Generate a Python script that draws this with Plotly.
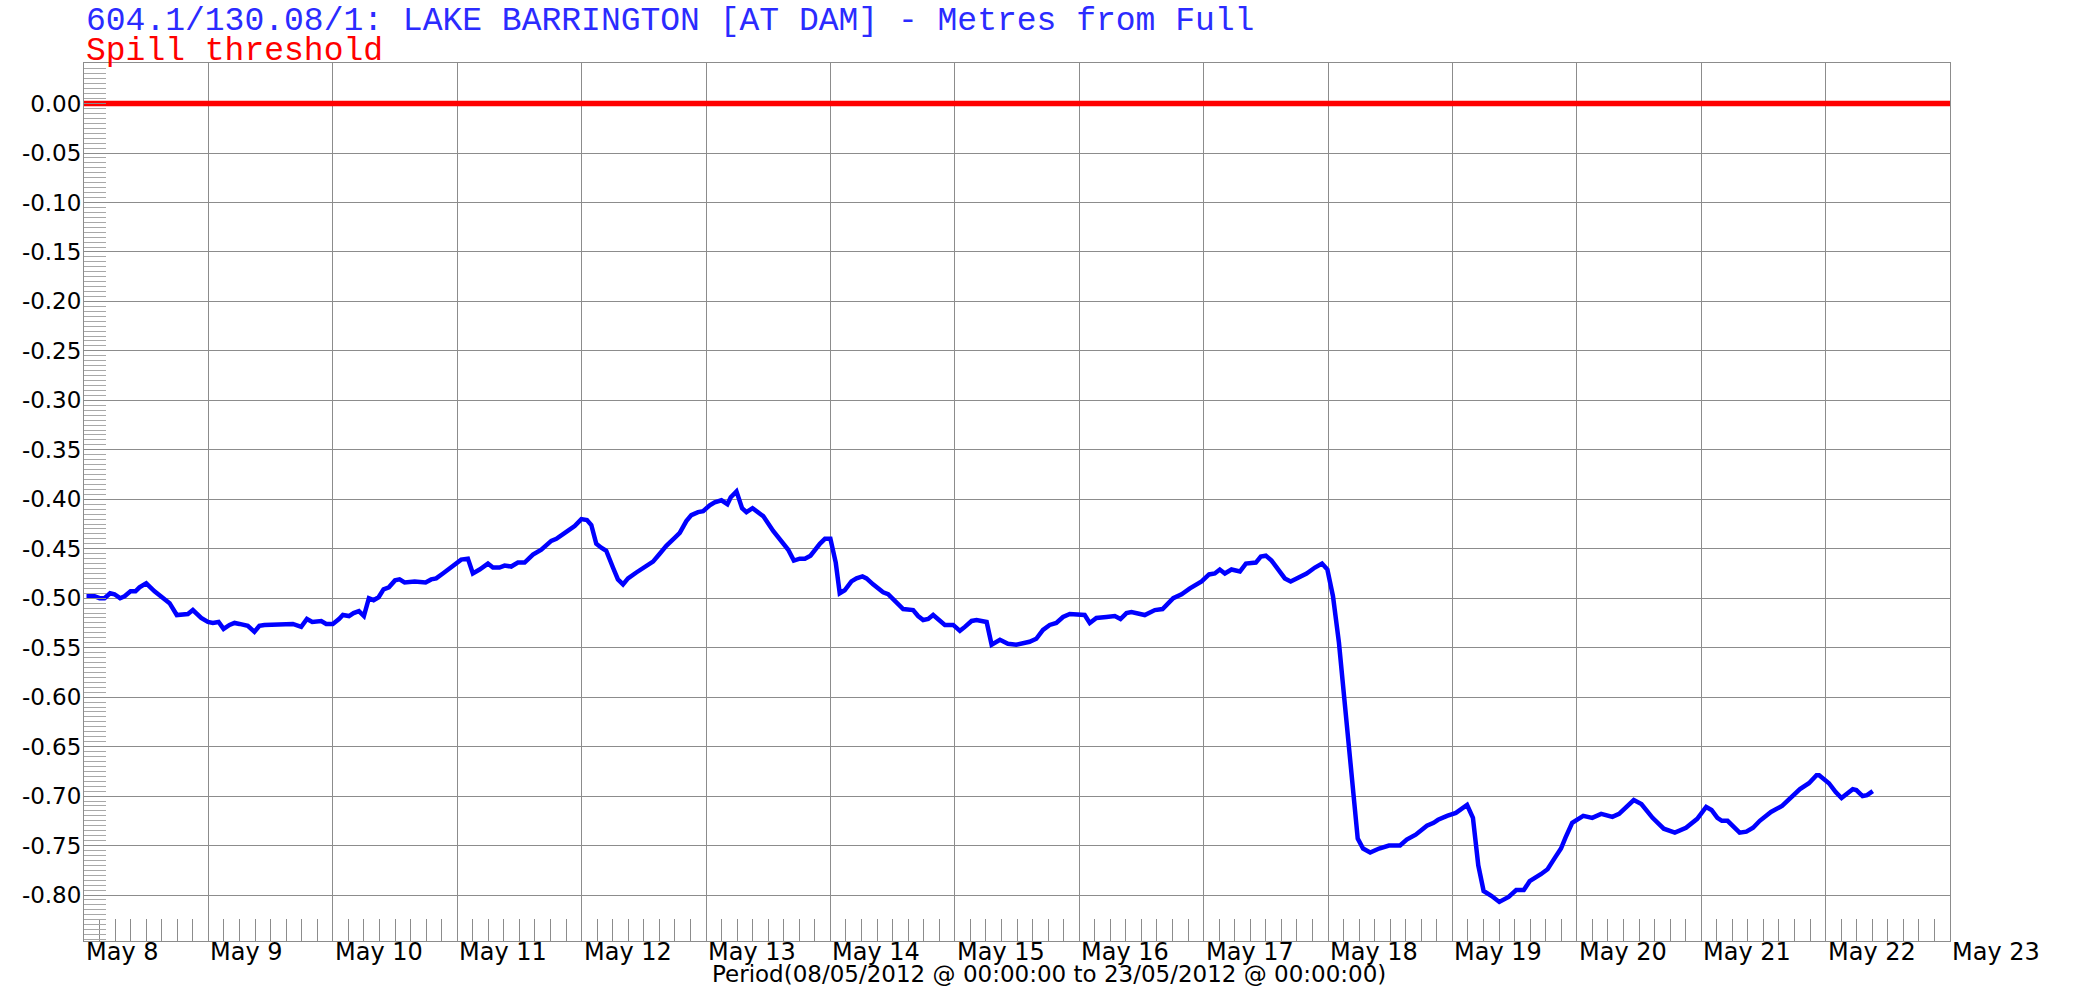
import pandas as pd
import plotly.graph_objects as go

# ---------------- data ----------------
start_date = "2012-05-08"
end_date = "2012-05-23"

# time since 08/05/2012 00:00, in days
day_offsets = [
    0.02, 0.085, 0.125, 0.165, 0.21, 0.245, 0.29, 0.326, 0.374, 0.414, 0.446, 0.50,
    0.567, 0.634, 0.688, 0.746, 0.789, 0.835, 0.875, 0.942, 0.996, 1.036, 1.082, 1.122,
    1.17, 1.21, 1.25, 1.317, 1.37, 1.41, 1.45, 1.49, 1.598, 1.679, 1.746, 1.792, 1.835,
    1.907, 1.947, 2.0, 2.05, 2.081, 2.13, 2.167, 2.21, 2.25, 2.29, 2.328, 2.368, 2.408,
    2.451, 2.5, 2.537, 2.577, 2.658, 2.746, 2.791, 2.831, 2.885, 2.966, 3.032, 3.086,
    3.126, 3.18, 3.247, 3.287, 3.34,
    3.381, 3.434, 3.488, 3.542, 3.609, 3.676, 3.756, 3.797, 3.877, 3.944, 3.998, 4.043,
    4.078, 4.118, 4.158, 4.198, 4.252, 4.292, 4.333, 4.373, 4.44, 4.52, 4.574, 4.628,
    4.681, 4.748, 4.789, 4.842, 4.882, 4.936, 4.977, 5.03, 5.07, 5.124, 5.172, 5.199,
    5.245, 5.29, 5.325, 5.374, 5.419, 5.46, 5.54, 5.607, 5.661, 5.706, 5.754, 5.795,
    5.84, 5.915, 5.956, 6.0, 6.043, 6.075, 6.115, 6.169, 6.21, 6.258, 6.29, 6.343,
    6.424, 6.464, 6.544, 6.585, 6.665, 6.705, 6.746, 6.786, 6.826, 6.88, 6.92, 6.987,
    7.041, 7.081, 7.135, 7.175, 7.256, 7.296, 7.363,
    7.427, 7.494, 7.601, 7.655, 7.709, 7.763, 7.816, 7.87, 7.924, 7.977, 8.044, 8.085,
    8.138, 8.219, 8.286, 8.332, 8.38, 8.42, 8.527, 8.608, 8.67, 8.756, 8.823, 8.89,
    8.984, 9.044, 9.09, 9.13, 9.171, 9.224, 9.292, 9.34, 9.42, 9.46, 9.5, 9.546, 9.653,
    9.7, 9.767, 9.828, 9.895, 9.952, 9.995,
    10.04, 10.088, 10.131, 10.167, 10.203, 10.239, 10.282, 10.339, 10.411, 10.49, 10.579,
    10.633, 10.705, 10.795, 10.849, 10.885, 10.957, 11.028, 11.118, 11.165, 11.208,
    11.251, 11.316, 11.377, 11.452, 11.513, 11.574, 11.621, 11.711, 11.765, 11.826,
    11.873, 11.909, 11.963, 12.052, 12.124, 12.196, 12.286, 12.34, 12.458, 12.519,
    12.609, 12.699, 12.788, 12.878, 12.968, 13.04, 13.083, 13.13, 13.166, 13.212, 13.262,
    13.309, 13.363, 13.417, 13.471, 13.561, 13.65, 13.722, 13.794, 13.866, 13.927,
    13.948, 14.027, 14.081, 14.128, 14.218, 14.247, 14.297, 14.333, 14.379,
]

# lake level, metres from full
level_m = [
    -0.498, -0.498, -0.500, -0.500, -0.495, -0.496, -0.500, -0.498, -0.493, -0.493, -0.489, -0.485,
    -0.493, -0.500, -0.505, -0.517, -0.516, -0.516, -0.512, -0.520, -0.524, -0.525, -0.524, -0.531,
    -0.527, -0.525, -0.526, -0.528, -0.534, -0.528, -0.527, -0.527, -0.527, -0.526, -0.529, -0.521, -0.524,
    -0.523, -0.526, -0.526, -0.521, -0.517, -0.518, -0.515, -0.513, -0.518, -0.500, -0.502, -0.499, -0.491,
    -0.489, -0.482, -0.481, -0.484, -0.483, -0.484, -0.481, -0.480, -0.475, -0.467, -0.461, -0.460,
    -0.475, -0.471, -0.465, -0.469, -0.469,
    -0.467, -0.468, -0.464, -0.464, -0.456, -0.451, -0.442, -0.440, -0.433, -0.427, -0.420, -0.421,
    -0.426, -0.445, -0.449, -0.452, -0.469, -0.481, -0.486, -0.480, -0.474, -0.467, -0.463, -0.455,
    -0.447, -0.439, -0.434, -0.422, -0.416, -0.413, -0.412, -0.406, -0.403, -0.401, -0.405, -0.398,
    -0.392, -0.409, -0.413, -0.409, -0.413, -0.417, -0.432, -0.442, -0.451, -0.462, -0.460, -0.460,
    -0.457, -0.445, -0.440, -0.440, -0.464, -0.495, -0.492, -0.483, -0.480, -0.478, -0.480, -0.486,
    -0.494, -0.496, -0.505, -0.511, -0.512, -0.518, -0.522, -0.521, -0.517, -0.522, -0.527, -0.527,
    -0.533, -0.529, -0.523, -0.522, -0.524, -0.547, -0.542,
    -0.546, -0.547, -0.544, -0.541, -0.532, -0.527, -0.525, -0.519, -0.516, -0.516, -0.517, -0.525,
    -0.520, -0.519, -0.518, -0.521, -0.515, -0.514, -0.517, -0.512, -0.511, -0.500, -0.496, -0.490,
    -0.483, -0.476, -0.475, -0.471, -0.475, -0.471, -0.473, -0.465, -0.464, -0.458, -0.457, -0.462, -0.480,
    -0.483, -0.479, -0.475, -0.469, -0.465, -0.471,
    -0.498, -0.545, -0.602, -0.656, -0.706, -0.743, -0.753, -0.757, -0.753, -0.750, -0.750,
    -0.744, -0.739, -0.730, -0.727, -0.724, -0.720, -0.717, -0.709, -0.722, -0.770,
    -0.796, -0.801, -0.807, -0.802, -0.795, -0.795, -0.786, -0.779, -0.774, -0.762,
    -0.753, -0.742, -0.727, -0.720, -0.722, -0.718, -0.721, -0.718, -0.704, -0.708,
    -0.722, -0.733, -0.737, -0.732, -0.723, -0.711, -0.714, -0.722, -0.725, -0.725, -0.731,
    -0.737, -0.736, -0.732, -0.725, -0.716, -0.710, -0.701, -0.693, -0.687, -0.679,
    -0.679, -0.687, -0.696, -0.702, -0.693, -0.694, -0.700, -0.699, -0.695,
]

spill_threshold_m = 0.0

x_tick_labels = ["May 8", "May 9", "May 10", "May 11", "May 12", "May 13", "May 14", "May 15",
                 "May 16", "May 17", "May 18", "May 19", "May 20", "May 21", "May 22", "May 23"]
y_tick_labels = ["0.00", "-0.05", "-0.10", "-0.15", "-0.20", "-0.25", "-0.30", "-0.35", "-0.40",
                 "-0.45", "-0.50", "-0.55", "-0.60", "-0.65", "-0.70", "-0.75", "-0.80"]

title_text = "604.1/130.08/1: LAKE BARRINGTON [AT DAM] - Metres from Full"
threshold_text = "Spill threshold"
period_text = "Period(08/05/2012 @ 00:00:00 to 23/05/2012 @ 00:00:00)"

# ---------------- figure ----------------
t0 = pd.Timestamp(start_date)
times = t0 + pd.to_timedelta(day_offsets, unit="D")
x_tick_dates = pd.date_range(start_date, end_date, freq="D")

GRID = "#8c8c8c"
LABEL_FONT = "DejaVu Sans"
MONO_FONT = "Liberation Mono"

fig = go.Figure()
fig.add_trace(go.Scatter(
    x=times, y=level_m, mode="lines",
    line=dict(color="#0000ff", width=4.5), hoverinfo="skip",
))
fig.add_trace(go.Scatter(
    x=[pd.Timestamp(start_date), pd.Timestamp(end_date)],
    y=[spill_threshold_m, spill_threshold_m], mode="lines",
    line=dict(color="#ff0000", width=5.5), hoverinfo="skip",
))

annotations = [
    dict(text=title_text, xref="paper", yref="paper", x=0, y=1, xanchor="left",
         yanchor="middle", yshift=42, showarrow=False,
         font=dict(family=MONO_FONT, size=33, color="#2b2bff")),
    dict(text=threshold_text, xref="paper", yref="paper", x=0, y=1, xanchor="left",
         yanchor="middle", yshift=12, showarrow=False,
         font=dict(family=MONO_FONT, size=33, color="#ff0000")),
    dict(text=period_text, xref="paper", yref="paper", x=0.517, y=0, xanchor="center",
         yanchor="middle", yshift=-33, showarrow=False,
         font=dict(family=LABEL_FONT, size=23, color="#000000")),
]
for d, lab in zip(x_tick_dates, x_tick_labels):
    annotations.append(dict(text=lab, x=d, xref="x", y=0, yref="paper", xanchor="left",
                            yanchor="middle", yshift=-11, showarrow=False,
                            font=dict(family=LABEL_FONT, size=24, color="#000000")))

fig.update_layout(
    width=2073, height=988,
    margin=dict(l=84, r=123, t=63, b=47, pad=0),
    plot_bgcolor="#ffffff", paper_bgcolor="#ffffff",
    showlegend=False,
    annotations=annotations,
    xaxis=dict(
        type="date", range=[start_date, end_date], autorange=False,
        tick0=start_date, dtick=86400000,
        showgrid=True, gridcolor=GRID, gridwidth=1,
        showticklabels=False, ticks="inside", ticklen=22, tickcolor=GRID, tickwidth=1,
        showline=True, linecolor=GRID, linewidth=1, mirror=True,
        zeroline=False, automargin=False,
        minor=dict(tick0=start_date, dtick=10800000, ticks="inside", ticklen=22,
                   tickcolor=GRID, tickwidth=1, showgrid=False),
    ),
    yaxis=dict(
        range=[-0.8465, 0.041], autorange=False,
        tickmode="array", tickvals=[float(v) for v in y_tick_labels], ticktext=y_tick_labels,
        showgrid=True, gridcolor=GRID, gridwidth=1,
        ticks="inside", ticklen=22, tickcolor=GRID, tickwidth=1,
        ticklabelstandoff=-3,
        tickfont=dict(family=LABEL_FONT, size=23, color="#000000"),
        showline=True, linecolor=GRID, linewidth=1, mirror=True,
        zeroline=False, automargin=False,
        minor=dict(tick0=0, dtick=0.005, ticks="inside", ticklen=22,
                   tickcolor="#a8a8a8", tickwidth=1, showgrid=False),
    ),
)

fig.write_html(
    "out.html",
    config={"displayModeBar": False},
    post_script="document.body.style.margin='0';document.body.style.overflow='hidden';",
)
